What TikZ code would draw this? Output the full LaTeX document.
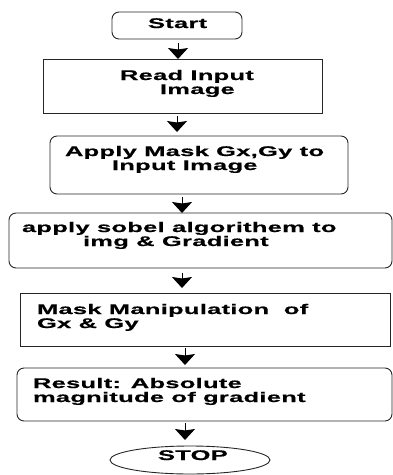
\documentclass[tikz,border=0pt]{standalone}
\usepackage{fontspec}
\newfontfamily\wide{Liberation Sans}[FakeStretch=1.82,LetterSpace=2,BoldFeatures={FakeBold=0.5}]
\usetikzlibrary{shapes.geometric,arrows.meta}
\begin{document}
\begin{tikzpicture}[x=1pt,y=-1pt,
  box/.style={draw=black!85,line width=0.9pt,inner sep=0pt,outer sep=0pt},
  rbox/.style={box,rounded corners=7pt},
  sbox/.style={box},
  obox/.style={box,ellipse},
  txt/.style={anchor=base west,inner sep=0pt,outer sep=0pt,font=\wide\bfseries\fontsize{14}{14}\selectfont},
  arr/.style={line width=1pt,-{Stealth[length=11pt,width=20pt,inset=1.5pt]}}]
\useasboundingbox (0,0) rectangle (393,475);
% boxes
\node[rbox,minimum width=130pt,minimum height=27pt] (start) at (177,25.5) {};
\node[sbox,minimum width=279pt,minimum height=54pt] (read) at (182.5,86) {};
\node[rbox,minimum width=298pt,minimum height=58pt] (apply) at (199,165) {};
\node[rbox,minimum width=383pt,minimum height=55pt] (sobel) at (200.5,240.5) {};
\node[sbox,minimum width=370pt,minimum height=53pt] (mask) at (205,319.5) {};
\node[rbox,minimum width=375pt,minimum height=53pt] (result) at (204.5,394.5) {};
\node[obox,minimum width=160pt,minimum height=28pt] (stop) at (190,460) {};
% texts
\node[txt] (t1) at (148,28) {Start};
\node[txt] (t2a) at (120,80) {Read Input};
\node[txt] (t2b) at (160,94) {Image};
\node[txt] (t3a) at (65,156) {Apply Mask Gx,Gy to};
\node[txt] (t3b) at (112,170) {Input Image};
\node[txt] (t4a) at (22,232) {apply sobel algorithem to};
\node[txt] (t4b) at (83,246) {img \& Gradient};
\node[txt] (t5a) at (37,314) {Mask Manipulation\ \ of};
\node[txt] (t5b) at (37,328) {Gx \& Gy};
\node[txt] (t6a) at (33,388) {Result: Absolute};
\node[txt] (t6b) at (33,402) {magnitude of gradient};
\node[txt] (t7) at (158,460) {STOP};
% arrows
\draw[arr] ([xshift=1pt,yshift=-4pt]start.south) -- ([xshift=-4.5pt]read.north);
\draw[arr] ([xshift=-5.5pt,yshift=-3pt]read.south) -- ([xshift=-22pt,yshift=4pt]apply.north);
\draw[arr] ([xshift=-17pt,yshift=-3pt]apply.south) -- ([xshift=-18.5pt]sobel.north);
\draw[arr] ([xshift=-18.5pt,yshift=-5pt]sobel.south) -- ([xshift=-23pt,yshift=5pt]mask.north);
\draw[arr] ([xshift=-20pt,yshift=-2pt]mask.south) -- ([xshift=-19.5pt,yshift=3pt]result.north);
\draw[arr] ([xshift=-19.5pt,yshift=-2pt]result.south) -- ([xshift=-5pt,yshift=6pt]stop.north);
\end{tikzpicture}
\end{document}
